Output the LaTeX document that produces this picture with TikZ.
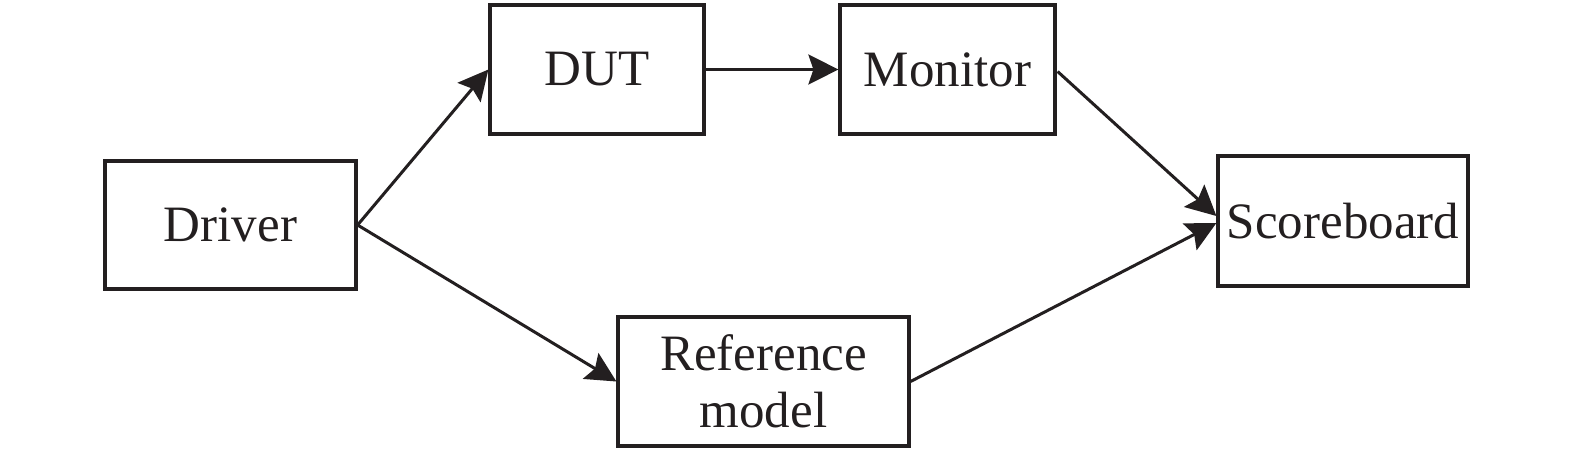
\documentclass[tikz,border=0pt]{standalone}
\usepackage{fontspec}
\setmainfont{Liberation Serif}
\usetikzlibrary{arrows.meta,calc}
\definecolor{ink}{HTML}{231F20}
\begin{document}
\begin{tikzpicture}[x=1pt,y=-1pt,
  blk/.style={draw=ink,line width=3.2pt,rectangle,inner sep=0pt,text=ink,
    font=\fontsize{51}{57}\selectfont,align=center},
  arr/.style={draw=ink,line width=3pt,-{Stealth[length=30pt,width=30pt,inset=5pt]}}]
\useasboundingbox (0,0) rectangle (1575,453);
\node[blk,minimum width=251pt,minimum height=128pt] (drv) at (230.5,225) {Driver};
\node[blk,minimum width=214pt,minimum height=129pt] (dut) at (597,69.5) {DUT};
\node[blk,minimum width=215pt,minimum height=129pt] (mon) at (947.5,69.5) {Monitor};
\node[blk,minimum width=250pt,minimum height=130pt] (sb) at (1343,221) {Scoreboard};
\node[blk,minimum width=291pt,minimum height=129pt] (ref) at (763.5,381.5) {Reference\\model};
\draw[arr] (drv.east) -- (dut.west);
\draw[arr] (drv.east) -- (ref.west);
\draw[arr] (dut.east) -- (mon.west);
\draw[arr] ($(mon.east)+(1,2)$) -- ($(sb.west)+(0,-5)$);
\draw[arr] (ref.east) -- ($(sb.west)+(0,2)$);
\end{tikzpicture}
\end{document}
